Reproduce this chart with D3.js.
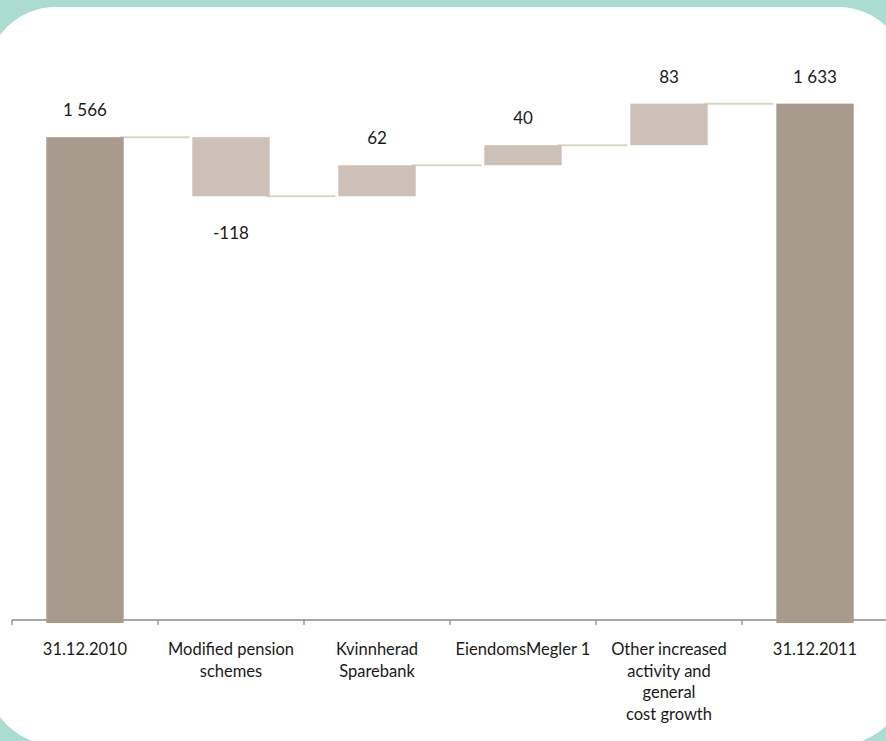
<!DOCTYPE html>
<html>
<head>
<meta charset="utf-8">
<script src="https://cdn.jsdelivr.net/npm/d3@7"></script>
<style>
  html, body { margin: 0; padding: 0; background: #ffffff; }
  svg { display: block; }
  text { font-family: Lato, "Liberation Sans", sans-serif; fill: #1a1a1a; }
</style>
</head>
<body>
<svg id="chart" width="886" height="741"></svg>
<script>
// Cost development 2010 -> 2011 (NOK million)
const categories = [
  "31.12.2010",
  "Modified pension\nschemes",
  "Kvinnherad\nSparebank",
  "EiendomsMegler 1",
  "Other increased\nactivity and\ngeneral\ncost growth",
  "31.12.2011"
];
const values = [1566, -118, 62, 40, 83, 1633];
const kinds = ["total", "delta", "delta", "delta", "delta", "total"];
const valueLabels = ["1 566", "-118", "62", "40", "83", "1 633"];
const yDomain = [600, 1800];

const W = 886, H = 741;
const svg = d3.select("#chart");

// Framed panel: white rounded card on a mint background
svg.append("rect").attr("width", W).attr("height", H).attr("fill", "#aadcd2");
svg.append("rect")
  .attr("x", -14).attr("y", 7)
  .attr("width", 922).attr("height", 738)
  .attr("rx", 70).attr("ry", 70)
  .attr("fill", "#ffffff");

const x = d3.scaleBand()
  .domain(categories)
  .range([12, 888])
  .paddingInner(0.47)
  .paddingOuter(0.235);

const y = d3.scaleLinear().domain(yDomain).range([621, 20]);

// Running totals for the waterfall
let running = 0;
const bars = values.map((v, i) => {
  let start, end;
  if (kinds[i] === "total") { start = yDomain[0]; end = v; running = v; }
  else { start = running; end = running + v; running = end; }
  return { cat: categories[i], kind: kinds[i], value: v, start, end, label: valueLabels[i] };
});

// Category axis with ticks between the categories
const step = x.step();
const axisY = 620;
const g = svg.append("g");
g.append("line")
  .attr("x1", 12).attr("x2", W)
  .attr("y1", axisY).attr("y2", axisY)
  .attr("stroke", "#8a8a8a").attr("stroke-width", 1.5);
const boundaries = d3.range(categories.length + 1).map(i => x.range()[0] + i * step);
g.selectAll("line.tick").data(boundaries).join("line")
  .attr("class", "tick")
  .attr("x1", d => d).attr("x2", d => d)
  .attr("y1", axisY).attr("y2", axisY + 5)
  .attr("stroke", "#8a8a8a").attr("stroke-width", 1.3);

const xAxis = d3.axisBottom(x).tickSize(0).tickPadding(0).tickFormat("");
const axisG = svg.append("g").attr("transform", `translate(0,${axisY})`).call(xAxis);
axisG.select(".domain").remove();
axisG.selectAll(".tick").each(function(d) {
  const t = d3.select(this).append("text")
    .attr("text-anchor", "middle")
    .attr("font-size", 16.5)
    .attr("fill", "#1a1a1a");
  d.split("\n").forEach((line, i) => {
    t.append("tspan").attr("x", 0).attr("y", 35 + i * 21.5).text(line);
  });
});

// Connector lines between consecutive bars
const connectors = bars.slice(0, -1).map((b, i) => ({
  level: b.end,
  x1: x(b.cat) + x.bandwidth() - 4,
  x2: x(bars[i + 1].cat) - 3
}));
svg.append("g").selectAll("line").data(connectors).join("line")
  .attr("x1", d => d.x1).attr("x2", d => d.x2)
  .attr("y1", d => y(d.level)).attr("y2", d => y(d.level))
  .attr("stroke", "#d9d5c4").attr("stroke-width", 2);

// Bars
svg.append("g").selectAll("rect").data(bars).join("rect")
  .attr("x", d => x(d.cat))
  .attr("width", x.bandwidth())
  .attr("y", d => y(Math.max(d.start, d.end)))
  .attr("height", d => Math.abs(y(d.start) - y(d.end)) + (d.kind === "total" ? 2 : 0))
  .attr("fill", d => d.kind === "total" ? "#a89a8c" : "#cdc0b6");

// Value labels
svg.append("g").selectAll("text").data(bars).join("text")
  .attr("x", d => x(d.cat) + x.bandwidth() / 2)
  .attr("y", d => d.value < 0
    ? y(Math.min(d.start, d.end)) + 43
    : y(Math.max(d.start, d.end)) - 21)
  .attr("text-anchor", "middle")
  .attr("font-size", 17)
  .text(d => d.label);
</script>
</body>
</html>
